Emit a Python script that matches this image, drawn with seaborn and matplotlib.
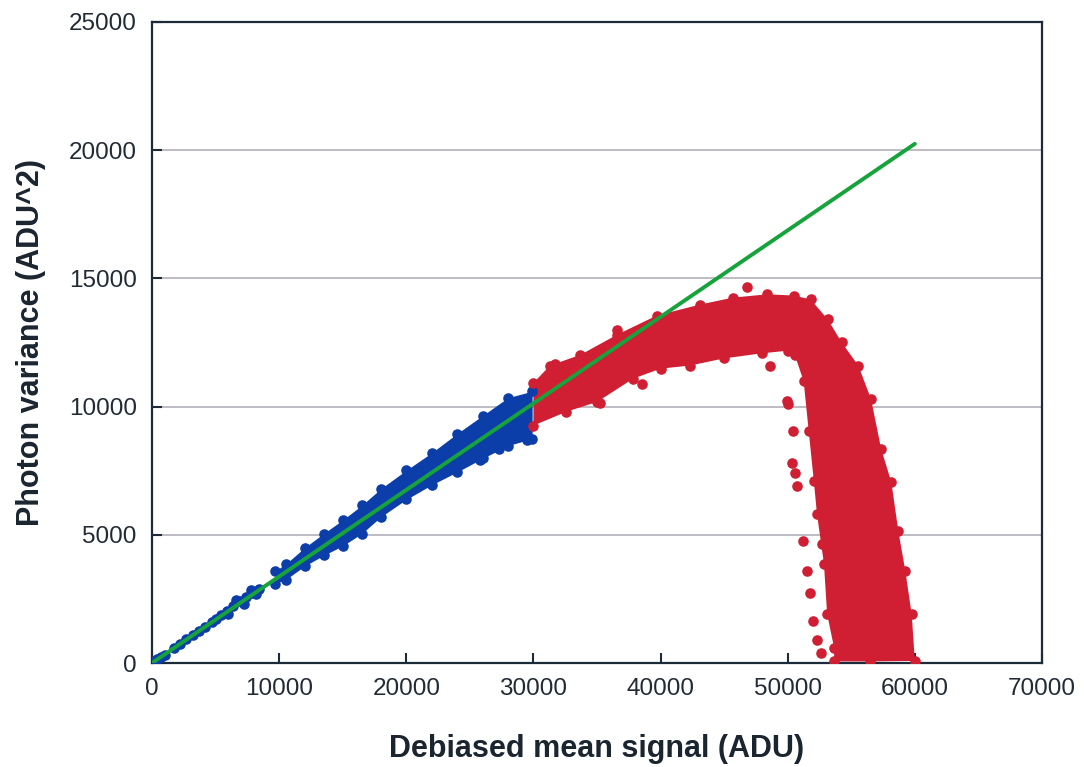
import matplotlib
matplotlib.use("Agg")
import matplotlib.pyplot as plt
import seaborn as sns
import pandas as pd

# ---------------- data ----------------
# small blue clusters near the origin (point centres)
blue_small_x = [100, 400, 700, 1000, 1700, 2200, 2700, 3200, 3700, 4200, 4700, 5000,
                5400, 5900, 6000, 6400, 6600, 6900, 7200, 7400, 7800, 7900, 8200, 8400]
blue_small_y = [40, 140, 240, 330, 580, 750, 920, 1090, 1250, 1420, 1590, 1700,
                1870, 2040, 1900, 2220, 2450, 2400, 2300, 2560, 2850, 2720, 2700, 2880]

# main blue band (envelope of point centres)
blue_band_x = [9700, 10500, 12000, 13500, 15000, 16500, 18000, 20000, 22000, 24000, 26000, 28000, 29900]
blue_band_lo = [3100, 3250, 3780, 4200, 4570, 5050, 5700, 6380, 6950, 7450, 7980, 8480, 8750]
blue_band_hi = [3600, 3850, 4500, 5050, 5580, 6150, 6800, 7520, 8200, 8950, 9650, 10350, 10600]
blue_out_x = [29500, 27300, 25800]
blue_out_y = [8700, 8350, 7900]

# red region outline (point centres, walked around the cloud)
red_x = [30000, 31300, 33700, 36600, 39700, 43100, 45700, 48400, 50500, 51800, 53150, 54250,
         55550, 56550, 57350, 58150, 58700, 59250, 59750, 60000, 56500, 53650, 53650, 53100,
         52850, 52300, 52050, 51650, 51250, 50550, 50000, 48000, 45000, 42300, 40000, 37850,
         35000, 32600, 30000]
red_y = [10920, 11600, 12020, 12810, 13550, 13980, 14250, 14380, 14330, 14180, 13400, 12500,
         11600, 10300, 8350, 7050, 5150, 3590, 1910, 80, 60, 60, 590, 1910,
         3870, 5820, 7110, 9060, 11000, 12020, 12180, 12080, 11880, 11600, 11480, 11090,
         10180, 9800, 9260]
red_out_x = [46800, 36580, 31700, 38550, 48600, 49950, 50000, 50400, 50350, 50600, 50740,
             51200, 51530, 51760, 52000, 52700, 52300, 52600, 35250]
red_out_y = [14650, 12970, 11680, 10900, 11600, 10230, 10100, 9060, 7800, 7420, 6900,
             4770, 3590, 2730, 1640, 4650, 900, 400, 10150]

# linear fit
fit_x = [0, 60000]
fit_y = [0, 20250]

x_ticks = [0, 10000, 20000, 30000, 40000, 50000, 60000, 70000]
y_ticks = [0, 5000, 10000, 15000, 20000, 25000]
x_label = "Debiased mean signal (ADU)"
y_label = "Photon variance (ADU^2)"

# ---------------- style ----------------
BLUE = "#0b3ea8"
RED = "#d01e33"
GREEN = "#16a33c"
AXC = "#1c2b3a"

sns.set_theme(style="white")
plt.rcParams["font.family"] = ["Liberation Sans", "DejaVu Sans"]

fig = plt.figure(figsize=(10.84, 7.67), dpi=100)
ax = fig.add_axes([152 / 1084, 1 - 663 / 767, (1042 - 152) / 1084, (663 - 22) / 767])

ax.yaxis.grid(True, color="#b0b0b8", linewidth=1.2, zorder=0)
ax.xaxis.grid(False)
ax.set_axisbelow(True)

ms = 58
# blue
ax.fill_between(blue_band_x, blue_band_lo, blue_band_hi, color=BLUE, lw=0, zorder=2)
blue_df = pd.DataFrame({
    "x": blue_small_x + blue_band_x + blue_band_x + blue_out_x,
    "y": blue_small_y + blue_band_lo + blue_band_hi + blue_out_y,
})
sns.scatterplot(data=blue_df, x="x", y="y", color=BLUE, s=ms, linewidth=0, ax=ax, zorder=3)

# red
ax.fill(red_x, red_y, color=RED, lw=0, zorder=2)
red_df = pd.DataFrame({"x": red_x + red_out_x, "y": red_y + red_out_y})
sns.scatterplot(data=red_df, x="x", y="y", color=RED, s=ms, linewidth=0, ax=ax, zorder=3)

# fit line
sns.lineplot(x=fit_x, y=fit_y, color=GREEN, linewidth=2.8, ax=ax, zorder=4)

ax.set_xlim(0, 70000)
ax.set_ylim(0, 25000)
ax.set_xticks(x_ticks)
ax.set_yticks(y_ticks)
ax.set_xticklabels([str(v) for v in x_ticks])
ax.set_yticklabels([str(v) for v in y_ticks])
ax.tick_params(axis="x", direction="in", length=7, width=1.5, color=AXC, pad=11,
               labelsize=17.5, labelcolor="#222a33", top=False, bottom=True)
ax.tick_params(axis="y", direction="in", length=7, width=1.5, color=AXC, pad=11,
               labelsize=17.5, labelcolor="#222a33", left=True, right=False)
for sp in ax.spines.values():
    sp.set_visible(True)
    sp.set_color(AXC)
    sp.set_linewidth(1.6)

ax.set_xlabel(x_label, fontsize=22, fontweight="bold", color="#1a2530", labelpad=24)
ax.set_ylabel(y_label, fontsize=22, fontweight="bold", color="#1a2530", labelpad=16)

fig.savefig("out.png", dpi=100)
